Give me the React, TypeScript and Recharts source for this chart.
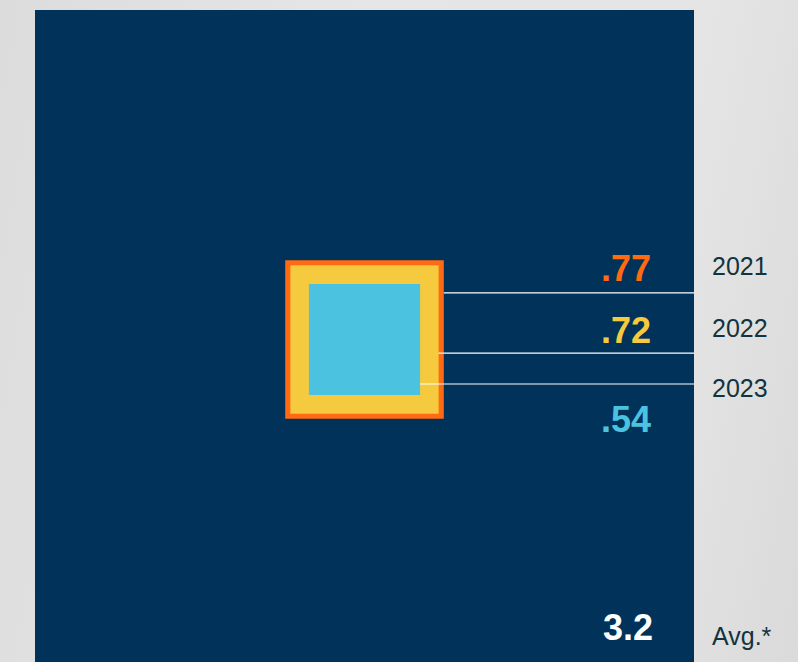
import { ComposedChart, XAxis, YAxis, ReferenceArea, ReferenceLine } from "recharts"

// values (square side is proportional to the value)
const years = ["2021", "2022", "2023"]
const values = [0.77, 0.72, 0.54]
const valueLabels = [".77", ".72", ".54"]
const average = 3.2
const averageLabel = "3.2"
const averageName = "Avg.*"

const colors = ["#ff6a13", "#f5ca3e", "#4bc2e0"]
const navy = "#01335a"
const labelInk = "#13333e"

// where the leader lines leave the squares (in value units from the centre)
const leaderY = [0.226, -0.066, -0.216]

const W = 798
const H = 662
const half = average / 2

export default function App() {
    return (
        <div
            style={{
                position: "absolute",
                left: 0,
                top: 0,
                width: W,
                height: H,
                overflow: "hidden",
                background: "linear-gradient(100deg, #dcdcdc 0%, #e6e6e6 40%, #e4e4e4 80%, #dadada 100%)",
                fontFamily: "'Liberation Sans', Arial, sans-serif",
            }}
        >
            <ComposedChart width={W} height={680} margin={{ top: 10, right: 104, bottom: 11, left: 35 }}>
                <XAxis type="number" dataKey="x" domain={[-half, half]} hide allowDataOverflow />
                <YAxis type="number" dataKey="y" domain={[-half, half]} hide allowDataOverflow />
                <ReferenceArea x1={-half} x2={half} y1={-half} y2={half} fill={navy} fillOpacity={1} stroke="none" />
                {values.map((v, i) => (
                    <ReferenceArea
                        key={years[i]}
                        x1={-v / 2}
                        x2={v / 2}
                        y1={-v / 2}
                        y2={v / 2}
                        fill={colors[i]}
                        fillOpacity={1}
                        stroke="none"
                    />
                ))}
                {values.map((v, i) => (
                    <ReferenceLine
                        key={"l" + years[i]}
                        segment={[{ x: v / 2, y: leaderY[i] }, { x: half, y: leaderY[i] }]}
                        stroke="#ffffff"
                        strokeOpacity={1}
                        strokeWidth={1.2}
                    />
                ))}
            </ComposedChart>
            <svg width={W} height={H} style={{ position: "absolute", left: 0, top: 0 }}>
                <g fontWeight="bold" fontSize={36} textAnchor="end">
                    <text x={651} y={281} fill={colors[0]}>{valueLabels[0]}</text>
                    <text x={651} y={343} fill={colors[1]}>{valueLabels[1]}</text>
                    <text x={651} y={432} fill={colors[2]}>{valueLabels[2]}</text>
                    <text x={653} y={640} fill="#ffffff">{averageLabel}</text>
                </g>
                <g fontSize={25} fill={labelInk}>
                    <text x={712} y={275}>{years[0]}</text>
                    <text x={712} y={337}>{years[1]}</text>
                    <text x={712} y={397}>{years[2]}</text>
                    <text x={712} y={645}>{averageName}</text>
                </g>
            </svg>
        </div>
    )
}
